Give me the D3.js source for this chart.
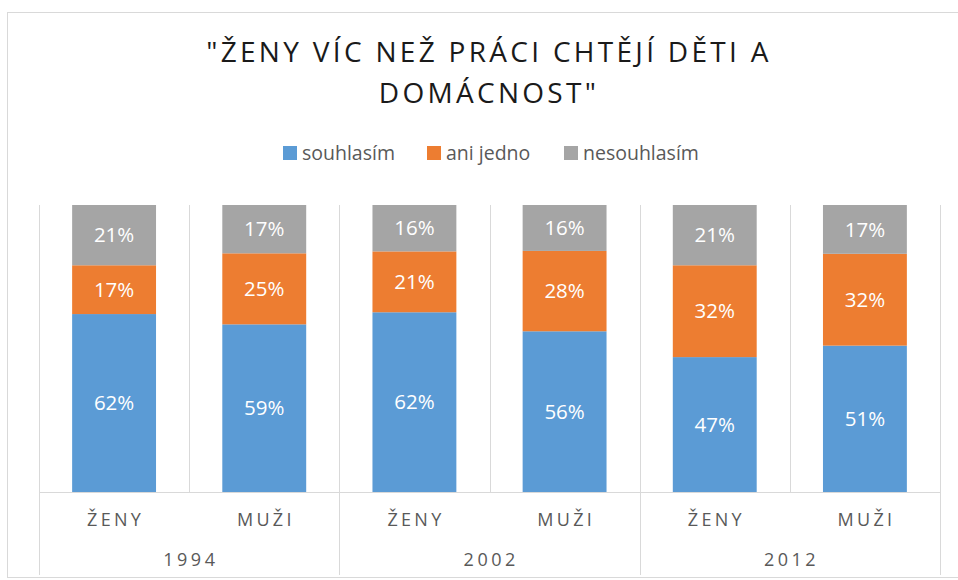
<!DOCTYPE html>
<html>
<head>
<meta charset="utf-8">
<script src="https://cdn.jsdelivr.net/npm/d3@7"></script>
<style>
  body { margin: 0; background: #fff; }
  text { font-family: "Open Sans", sans-serif; }
</style>
</head>
<body>
<div id="chart"></div>
<script>
// chart data
var years = ['1994', '2002', '2012'];
var genders = ['ŽENY', 'MUŽI'];
var seriesNames = ['souhlasím', 'ani jedno', 'nesouhlasím'];
var souhlasim = [62, 59, 62, 56, 47, 51];
var aniJedno = [17, 25, 21, 28, 32, 32];
var nesouhlasim = [21, 17, 16, 16, 21, 17];
var colors = ['#5B9BD5', '#ED7D31', '#A5A5A5'];

var width = 958, height = 580;
var margin = { left: 39, right: 18, top: 205, bottom: 88 };

// build rows for the stack
var rows = [];
years.forEach(function(y, yi) {
    genders.forEach(function(g, gi) {
        var i = yi * genders.length + gi;
        rows.push({ key: y + '-' + g, year: y, gender: g, s0: souhlasim[i], s1: aniJedno[i], s2: nesouhlasim[i] });
    });
});

var svg = d3.select('#chart').append('svg')
    .attr('width', width)
    .attr('height', height);

// chart border
svg.append('rect')
    .attr('x', 7.5).attr('y', 12.5)
    .attr('width', width - 7).attr('height', height - 15)
    .attr('fill', 'none')
    .attr('stroke', '#d9d9d9');

var x = d3.scaleBand()
    .domain(rows.map(function(d) { return d.key; }))
    .range([margin.left, width - margin.right])
    .paddingInner(0).paddingOuter(0);

var y = d3.scaleLinear()
    .domain([0, 1])
    .range([height - margin.bottom, margin.top]);

var barW = x.bandwidth() / 1.79;

var stack = d3.stack()
    .keys(['s0', 's1', 's2'])
    .offset(d3.stackOffsetExpand);
var stacked = stack(rows);

var grid = '#d9d9d9';
var axisY = y(0);

// bars
var layers = svg.selectAll('g.layer')
    .data(stacked)
    .enter()
    .append('g')
    .attr('class', 'layer')
    .attr('fill', function(d, i) { return colors[i]; });

layers.selectAll('rect')
    .data(function(d) { return d; })
    .enter()
    .append('rect')
    .attr('x', function(d) { return x(d.data.key) + (x.bandwidth() - barW) / 2; })
    .attr('y', function(d) { return y(d[1]); })
    .attr('width', barW)
    .attr('height', function(d) { return y(d[0]) - y(d[1]); });

// data labels
layers.each(function(layer, li) {
    d3.select(this).selectAll('text')
        .data(layer)
        .enter()
        .append('text')
        .attr('x', function(d) { return x(d.data.key) + x.bandwidth() / 2; })
        .attr('y', function(d) { return (y(d[0]) + y(d[1])) / 2; })
        .attr('dy', '0.35em')
        .attr('text-anchor', 'middle')
        .attr('fill', '#fff')
        .attr('font-size', 20.5)
        .text(function(d) { return d.data['s' + li] + '%'; });
});

// vertical grid lines: category separators and group separators
var keys = x.domain();
var edges = keys.map(function(k) { return x(k); }).concat([x(keys[keys.length - 1]) + x.bandwidth()]);
svg.selectAll('line.sep')
    .data(edges)
    .enter()
    .append('line')
    .attr('class', 'sep')
    .attr('x1', function(d) { return Math.round(d) + 0.5; })
    .attr('x2', function(d) { return Math.round(d) + 0.5; })
    .attr('y1', margin.top)
    .attr('y2', function(d, i) { return i % genders.length === 0 ? height - 5 : axisY; })
    .attr('stroke', grid);

// horizontal axis line
svg.append('line')
    .attr('x1', margin.left).attr('x2', width - margin.right)
    .attr('y1', Math.round(axisY) + 0.5).attr('y2', Math.round(axisY) + 0.5)
    .attr('stroke', grid);

// category labels
svg.selectAll('text.cat')
    .data(rows)
    .enter()
    .append('text')
    .attr('class', 'cat')
    .attr('x', function(d) { return x(d.key) + x.bandwidth() / 2 + 1.6; })
    .attr('y', axisY + 28)
    .attr('dy', '0.35em')
    .attr('text-anchor', 'middle')
    .attr('fill', '#595959')
    .attr('font-size', 18)
    .attr('letter-spacing', '3.3px')
    .text(function(d) { return d.gender; });

// year labels
svg.selectAll('text.year')
    .data(years)
    .enter()
    .append('text')
    .attr('class', 'year')
    .attr('x', function(d) { return x(d + '-' + genders[0]) + x.bandwidth() + 1.7; })
    .attr('y', axisY + 68)
    .attr('dy', '0.35em')
    .attr('text-anchor', 'middle')
    .attr('fill', '#595959')
    .attr('font-size', 18)
    .attr('letter-spacing', '3.5px')
    .text(function(d) { return d; });

// title
var titleLines = ['"ŽENY VÍC NEŽ PRÁCI CHTĚJÍ DĚTI A', 'DOMÁCNOST"'];
svg.selectAll('text.title')
    .data(titleLines)
    .enter()
    .append('text')
    .attr('class', 'title')
    .attr('x', width / 2 + 10)
    .attr('y', function(d, i) { return 52 + i * 41; })
    .attr('dy', '0.35em')
    .attr('text-anchor', 'middle')
    .attr('fill', '#1a1a1a')
    .attr('font-size', 28)
    .attr('letter-spacing', '3.3px')
    .text(function(d) { return d; });

// legend
var legendX = [283, 427, 564];
var legend = svg.selectAll('g.legend')
    .data(seriesNames)
    .enter()
    .append('g')
    .attr('class', 'legend')
    .attr('transform', function(d, i) { return 'translate(' + legendX[i] + ',153)'; });
legend.append('rect')
    .attr('x', 0).attr('y', -7)
    .attr('width', 14).attr('height', 14)
    .attr('fill', function(d, i) { return colors[i]; });
legend.append('text')
    .attr('x', 19)
    .attr('dy', '0.35em')
    .attr('fill', '#595959')
    .attr('font-size', 19.5)
    .text(function(d) { return d; });
</script>
</body>
</html>
